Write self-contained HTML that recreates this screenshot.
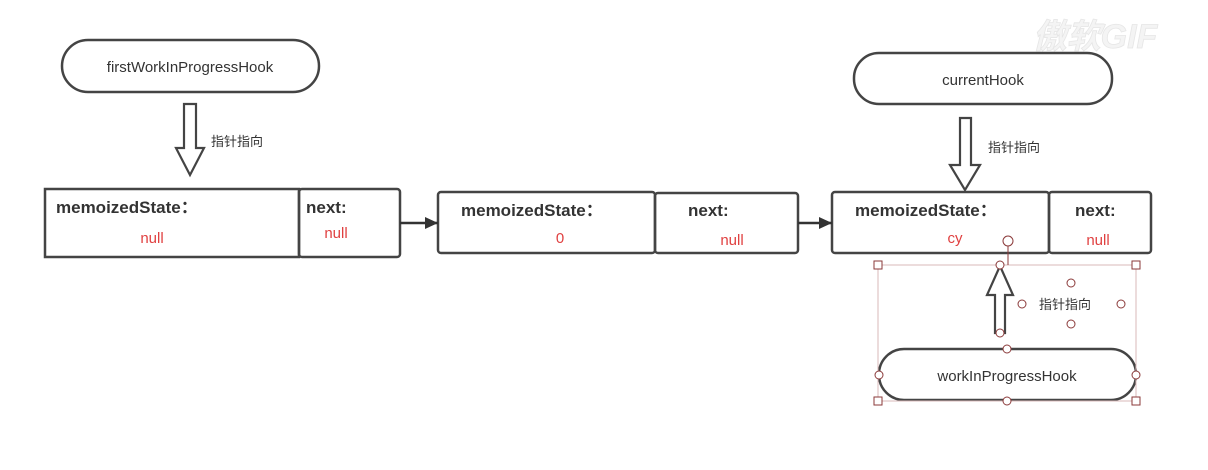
<!DOCTYPE html>
<html><head><meta charset="utf-8"><style>
html,body{margin:0;padding:0;background:#fff;}
svg{display:block;}
text{font-family:"Liberation Sans","Noto Sans CJK SC",sans-serif;}
</style></head><body>
<svg width="1208" height="470" viewBox="0 0 1208 470" xmlns="http://www.w3.org/2000/svg">
<defs>
<marker id="ah" markerWidth="14" markerHeight="14" refX="13" refY="6" orient="auto" markerUnits="userSpaceOnUse">
<path d="M0,0 L13,6 L0,12 z" fill="#333"/></marker>
</defs>
<text x="1095" y="48" font-size="34" font-style="italic" font-weight="bold" fill="#f4f4f4" stroke="#e6e6e6" stroke-width="0.8" text-anchor="middle">傲软GIF</text>
<g fill="none" stroke="#444" stroke-width="2.5">
<rect x="62" y="40" width="257" height="52" rx="26"/>
<rect x="854" y="53" width="258" height="51" rx="25"/>
<rect x="879" y="349" width="257" height="51" rx="25"/>
<rect x="45" y="189" width="254" height="68"/>
<rect x="299" y="189" width="101" height="68" rx="3"/>
<rect x="438" y="192" width="217" height="61" rx="3"/>
<rect x="655" y="193" width="143" height="60" rx="3"/>
<rect x="832" y="192" width="217" height="61" rx="3"/>
<rect x="1049" y="192" width="102" height="61" rx="3"/>
<path d="M184,104 H196 V148 H204 L190,175 L176,148 H184 Z" stroke-width="2.2"/>
<path d="M960,118 H971 V165 H980 L965,190 L950,165 H960 Z" stroke-width="2.2"/>
<path d="M995,333 H1005 V295 H1013 L1000,266 L987,295 H995 Z" stroke-width="2.2"/>
</g>
<g stroke="#333" stroke-width="2.5">
<line x1="400" y1="223" x2="438" y2="223" marker-end="url(#ah)"/>
<line x1="798" y1="223" x2="832" y2="223" marker-end="url(#ah)"/>
</g>
<rect x="878" y="265" width="258" height="136" fill="none" stroke="#d8b8b8" stroke-width="1"/>
<line x1="1008" y1="246" x2="1008" y2="265" stroke="#8b3a3a" stroke-width="1"/>
<g fill="#fff" stroke="#8b3a3a" stroke-width="1">
<rect x="874" y="261" width="8" height="8"/><rect x="1132" y="261" width="8" height="8"/>
<rect x="874" y="397" width="8" height="8"/><rect x="1132" y="397" width="8" height="8"/>
<circle cx="1008" cy="241" r="5"/>
<circle cx="1000" cy="265" r="4"/><circle cx="1000" cy="333" r="4"/>
<circle cx="1007" cy="349" r="4"/><circle cx="1007" cy="401" r="4"/>
<circle cx="879" cy="375" r="4"/><circle cx="1136" cy="375" r="4"/>
<circle cx="1071" cy="283" r="4"/><circle cx="1071" cy="324" r="4"/>
<circle cx="1022" cy="304" r="4"/><circle cx="1121" cy="304" r="4"/>
</g>
<g font-size="15" fill="#333" text-anchor="middle">
<text x="190" y="72">firstWorkInProgressHook</text>
<text x="983" y="85">currentHook</text>
<text x="1007" y="381">workInProgressHook</text>
</g>
<g font-size="13" fill="#333">
<text x="211" y="146">指针指向</text>
<text x="988" y="152">指针指向</text>
<text x="1039" y="309">指针指向</text>
</g>
<g font-size="17" font-weight="bold" fill="#333">
<text x="56" y="213">memoizedState：</text>
<text x="306" y="213">next:</text>
<text x="461" y="216">memoizedState：</text>
<text x="688" y="216">next:</text>
<text x="855" y="216">memoizedState：</text>
<text x="1075" y="216">next:</text>
</g>
<g font-size="15" fill="#e04040" text-anchor="middle">
<text x="152" y="243">null</text>
<text x="336" y="238">null</text>
<text x="560" y="243">0</text>
<text x="732" y="245">null</text>
<text x="955" y="243">cy</text>
<text x="1098" y="245">null</text>
</g>
</svg>
</body></html>
